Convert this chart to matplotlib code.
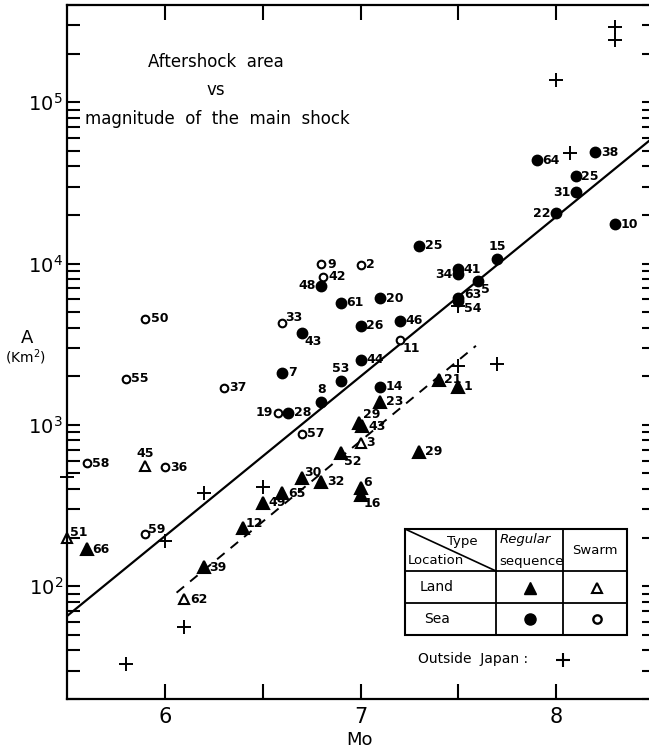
import numpy as np
import matplotlib.pyplot as plt

# Land, regular sequence (filled triangles)
land_reg_m = [5.6, 6.2, 6.4, 6.5, 6.6, 6.7, 6.8, 6.9, 7.0, 7.0, 7.01, 6.99, 7.1, 7.4, 7.5, 7.3]
land_reg_a = [170, 131, 229, 328, 378, 469, 443, 670, 406, 367, 980, 1030, 1390, 1900, 1720, 680]
land_reg_lab = ['66', '39', '12', '49', '65', '30', '32', '52', '6', '16', '43', '29', '23', '21', '1', '29']

# Land, swarm (open triangles)
land_sw_m = [7.0, 5.9, 5.5, 6.1]
land_sw_a = [773, 556, 199, 83]
land_sw_lab = ['3', '45', '51', '62']

# Sea, regular sequence (filled circles)
sea_reg_m = [6.8, 6.9, 7.1, 7.0, 7.2, 6.7, 6.6, 6.9, 7.0, 6.8, 6.63, 7.1, 7.3, 7.7, 7.5, 7.5,
             7.6, 7.5, 7.5, 7.9, 8.2, 8.1, 8.1, 8.0, 8.3]
sea_reg_a = [7300, 5730, 6070, 4120, 4430, 3720, 2100, 1880, 2530, 1390, 1190, 1720, 12900, 10700,
             9180, 8550, 7840, 6150, 5890, 43600, 48900, 34700, 27600, 20500, 17500]
sea_reg_lab = ['48', '61', '20', '26', '46', '43', '7', '53', '44', '8', '28', '14', '25', '15',
               '41', '34', '5', '63', '54', '64', '38', '25', '31', '22', '10']

# Sea, swarm (open circles)
sea_sw_m = [5.9, 5.8, 6.3, 6.6, 6.8, 6.81, 7.0, 6.58, 6.7, 7.2, 5.6, 6.0, 5.9]
sea_sw_a = [4550, 1930, 1700, 4300, 9860, 8300, 9800, 1190, 880, 3370, 580, 548, 210]
sea_sw_lab = ['50', '55', '37', '33', '9', '42', '2', '19', '57', '11', '58', '36', '59']

# Outside Japan (+)
out_m = [8.3, 8.3, 8.0, 8.07, 7.5, 7.7, 7.5, 6.2, 6.0, 5.5, 6.1, 5.8, 6.5]
out_a = [2.93e5, 2.43e5, 1.37e5, 48200, 2320, 2390, 5480, 378, 191, 476, 55.6, 32.8, 412]

# fitted lines: log A = a*M + b
solid_coef = (0.99, -3.63)
solid_range = (5.5, 8.5)
dash_coef = (1.0, -4.10)
dash_range = (6.06, 7.59)

# label placement codes (style only)
land_reg_pos = ['r', 'r', 'ur', 'r', 'r', 'ur', 'r', 'lr', 'ur', 'lr', 'r', 'ru', 'r', 'r', 'r', 'r']
land_sw_pos = ['r', 'a', 'ur', 'r']
sea_reg_pos = ['l', 'r', 'r', 'r', 'r', 'lr', 'r', 'a', 'r', 'a', 'r', 'r', 'r', 'a',
               'r', 'l', 'lr', 'r2', 'rd', 'r', 'r', 'r', 'l', 'l', 'r']
sea_sw_pos = ['r', 'r', 'r', 'ur', 'r', 'r', 'r', 'l', 'r', 'lr', 'r', 'r', 'ur']

offs = {'r': (4, 0, 'left', 'center'), 'l': (-4, 0, 'right', 'center'),
        'a': (0, 4, 'center', 'bottom'), 'ur': (2, -1, 'left', 'bottom'),
        'lr': (2, -1.5, 'left', 'top'), 'ru': (3, 6, 'left', 'center'),
        'r2': (4, 2.5, 'left', 'center'), 'rd': (4, -6, 'left', 'center')}

W, H = 649, 753
fig = plt.figure(figsize=(W / 100, H / 100), dpi=100)
ax = fig.add_axes([67 / W, 54 / H, 587 / W, 694 / H])
ax.set_yscale('log')
ax.set_xlim(5.5, 8.5)
ax.set_ylim(20, 4e5)

for s in ax.spines.values():
    s.set_linewidth(1.6)

x = np.array(solid_range)
ax.plot(x, 10 ** (solid_coef[0] * x + solid_coef[1]), color='black', lw=1.6)
x = np.array(dash_range)
ax.plot(x, 10 ** (dash_coef[0] * x + dash_coef[1]), color='black', lw=1.4, ls=(0, (5, 4)))

def draw(m, a, labs, pos, marker, face, ms):
    ax.plot(m, a, ls='none', marker=marker, ms=ms, mfc=face, mec='black', mew=1.5, clip_on=False)
    for mi, ai, lb, p in zip(m, a, labs, pos):
        dx, dy, ha, va = offs[p]
        ax.annotate(lb, (mi, ai), xytext=(dx, dy), textcoords='offset points',
                    ha=ha, va=va, fontsize=9, fontweight='bold')

draw(land_reg_m, land_reg_a, land_reg_lab, land_reg_pos, '^', 'black', 8)
draw(land_sw_m, land_sw_a, land_sw_lab, land_sw_pos, '^', 'white', 7)
draw(sea_reg_m, sea_reg_a, sea_reg_lab, sea_reg_pos, 'o', 'black', 7)
draw(sea_sw_m, sea_sw_a, sea_sw_lab, sea_sw_pos, 'o', 'white', 5.5)
ax.plot(out_m, out_a, ls='none', marker='+', ms=10, mew=1.4, color='black', clip_on=False)

ax.set_xticks([6, 7, 8])
ax.set_xticklabels(['6', '7', '8'], fontsize=15)
ax.set_xticks([6.5, 7.5], minor=True)
ax.set_yticks([1e2, 1e3, 1e4, 1e5])
ax.set_yticklabels([r'$10^2$', r'$10^3$', r'$10^4$', r'$10^5$'], fontsize=14)
ax.yaxis.set_minor_formatter(plt.NullFormatter())
ax.tick_params(which='both', direction='in', top=True, right=True, width=1.5)
ax.tick_params(axis='x', which='both', length=11, pad=6)
ax.tick_params(axis='y', which='both', length=9, pad=3)

# overlay in pixel coordinates for free text and the legend table
ov = fig.add_axes([0, 0, 1, 1], zorder=5)
ov.set_xlim(0, W)
ov.set_ylim(H, 0)
ov.axis('off')

ov.text(216, 62, 'Aftershock  area', ha='center', va='center', fontsize=12)
ov.text(216, 90, 'vs', ha='center', va='center', fontsize=12)
ov.text(217, 119, 'magnitude  of  the  main  shock', ha='center', va='center', fontsize=12)
ov.text(27, 338, 'A', ha='center', va='center', fontsize=13)
ov.text(25, 357, '(Km$^2$)', ha='center', va='center', fontsize=10)
ov.text(360, 740, 'Mo', ha='center', va='center', fontsize=13)

# legend table
x0, x1, x2, x3 = 405, 496, 563, 627
y0, y1, y2, y3 = 529, 571, 603, 635
ov.add_patch(plt.Rectangle((x0, y0), x3 - x0, y3 - y0, fc='white', ec='black', lw=1.5))
for xv in (x1, x2):
    ov.plot([xv, xv], [y0, y3], color='black', lw=1.3)
for yv in (y1, y2):
    ov.plot([x0, x3], [yv, yv], color='black', lw=1.3)
ov.plot([x0, x1], [y0, y1], color='black', lw=1.2)
ov.text(478, 542, 'Type', ha='right', va='center', fontsize=9.5)
ov.text(408, 561, 'Location', ha='left', va='center', fontsize=9.5)
ov.text(500, 540, 'Regular', ha='left', va='center', fontsize=9.5, style='italic')
ov.text(499, 561, 'sequence', ha='left', va='center', fontsize=9.5)
ov.text(595, 551, 'Swarm', ha='center', va='center', fontsize=9.5)
ov.text(420, 587, 'Land', ha='left', va='center', fontsize=10)
ov.text(424, 619, 'Sea', ha='left', va='center', fontsize=10)
ov.plot(530, 588, marker='^', ms=8, color='black')
ov.plot(597, 588, marker='^', ms=7, mfc='white', mec='black', mew=1.5)
ov.plot(530, 619, marker='o', ms=8, color='black')
ov.plot(597, 619, marker='o', ms=6, mfc='white', mec='black', mew=1.7)
ov.text(418, 659, 'Outside  Japan :', ha='left', va='center', fontsize=10)
ov.plot(563, 660, marker='+', ms=10, mew=1.5, color='black')

fig.savefig('out.png', dpi=100)
